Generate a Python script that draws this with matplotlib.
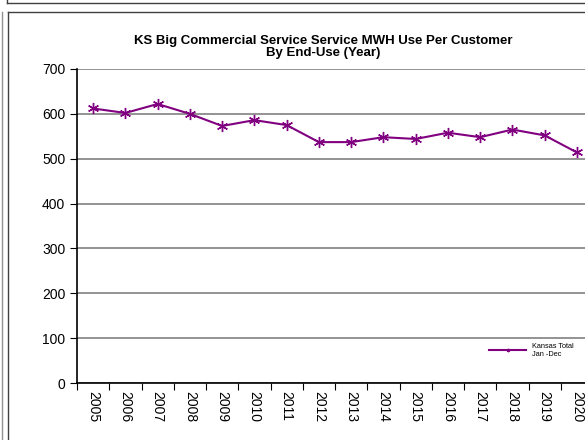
import matplotlib
matplotlib.use("Agg")
import matplotlib.pyplot as plt
from matplotlib.lines import Line2D

plt.rcParams['font.family'] = ['Liberation Sans', 'DejaVu Sans']

years = ['2005', '2006', '2007', '2008', '2009', '2010', '2011', '2012',
         '2013', '2014', '2015', '2016', '2017', '2018', '2019', '2020']
mwh_per_customer = [612, 602, 622, 600, 573, 586, 575, 537,
                    537, 548, 544, 558, 548, 565, 552, 514]

fig = plt.figure(figsize=(5.85, 4.4), dpi=100)
W, H = 585.0, 440.0

# frame lines around the chart area (like the report page)
def fline(x0, y0, x1, y1, color='#404040', lw=1.0):
    fig.add_artist(Line2D([x0 / W, x1 / W], [1 - y0 / H, 1 - y1 / H],
                          transform=fig.transFigure, color=color, lw=lw))

fline(7, 3.5, 585, 3.5)
fline(7, 0, 7, 3.5)
fline(2, 12, 2, 440, color='#909090')
fline(7.5, 12, 7.5, 440)
fline(7.5, 12.5, 585, 12.5)

ax = fig.add_axes([77 / W, 1 - 383 / H, (593 - 77) / W, (383 - 69) / H])
x = list(range(len(years)))
ax.plot(x, mwh_per_customer, color='#800080', lw=1.5, marker=(6, 2, 0),
        markersize=8, markeredgewidth=1.0, label='Kansas Total\nJan -Dec')

ax.set_xlim(-0.5, len(years) - 0.5)
ax.set_ylim(0, 700)
ax.set_yticks(range(0, 701, 100))
ax.yaxis.grid(True, color='#808080', lw=1.2)
ax.set_axisbelow(True)

ax.set_xticks([i + 0.5 for i in range(-1, len(years))])
ax.set_xticklabels([])
ax.set_xticks(x, minor=True)
ax.set_xticklabels(years, minor=True, rotation=-90, fontsize=10)
ax.tick_params(axis='x', which='minor', length=0, pad=6)
ax.tick_params(axis='x', which='major', length=5, direction='out')
ax.tick_params(axis='y', length=5, direction='out', labelsize=10)

for s in ['top', 'right']:
    ax.spines[s].set_visible(False)
ax.spines['left'].set_linewidth(1.2)
ax.spines['bottom'].set_linewidth(1.2)

leg = ax.legend(loc='lower right', bbox_to_anchor=(0.975, 0.06), frameon=False,
                fontsize=5.3, handlelength=5, markerscale=0.3)

fig.text(323 / W, 1 - 47 / H,
         'KS Big Commercial Service Service MWH Use Per Customer\nBy End-Use (Year)',
         ha='center', va='center', fontsize=9.5, fontweight='bold', linespacing=1.0)

fig.savefig('out.png', dpi=100)
